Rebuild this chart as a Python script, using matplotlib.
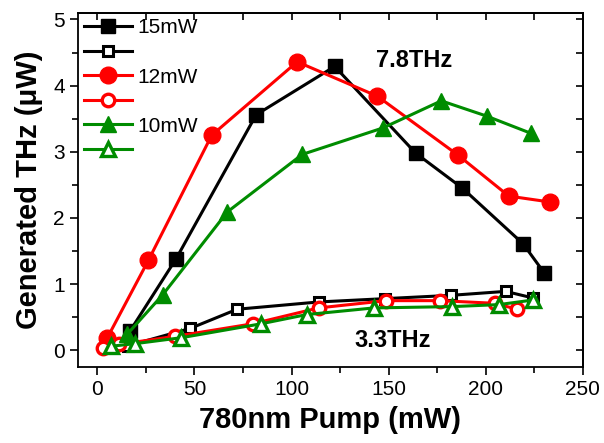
import matplotlib
matplotlib.use("Agg")
import matplotlib.pyplot as plt
from matplotlib.ticker import MultipleLocator

plt.rcParams['font.family'] = ['Liberation Sans', 'DejaVu Sans']

# 7.8 THz (filled symbols)
x15 = [16.8, 40.5, 81.8, 122.2, 163.9, 188.0, 219.2, 230.1]
y15 = [0.29, 1.38, 3.56, 4.29, 2.98, 2.45, 1.61, 1.17]
x12 = [5.0, 26.3, 58.9, 102.9, 144.2, 185.7, 211.9, 233.3]
y12 = [0.18, 1.36, 3.25, 4.36, 3.84, 2.95, 2.33, 2.24]
x10 = [15.3, 33.7, 66.9, 105.5, 147.0, 177.1, 200.4, 223.2]
y10 = [0.24, 0.84, 2.09, 2.96, 3.36, 3.77, 3.54, 3.28]

# 3.3 THz (open symbols)
x15o = [16.0, 47.8, 72.0, 113.9, 147.9, 182.0, 210.2, 224.4]
y15o = [0.07, 0.33, 0.62, 0.73, 0.78, 0.83, 0.89, 0.79]
x12o = [3.0, 11.3, 40.0, 80.0, 113.9, 148.8, 176.3, 204.6, 216.1]
y12o = [0.03, 0.09, 0.21, 0.40, 0.64, 0.75, 0.75, 0.71, 0.62]
x10o = [6.8, 19.5, 43.3, 84.3, 107.9, 142.4, 182.8, 206.7, 224.4]
y10o = [0.06, 0.10, 0.19, 0.40, 0.54, 0.64, 0.66, 0.69, 0.76]

green = '#008c00'

fig = plt.figure(figsize=(6.04, 4.43), dpi=100)
ax = fig.add_axes([0.129, 0.172, 0.836, 0.799])

lw = 2.2
ax.plot(x15, y15, '-s', color='k', lw=lw, ms=10.5, label='15mW')
ax.plot(x15o, y15o, '-s', color='k', lw=lw, ms=7.5, mfc='white', mew=2.2, label=' ')
ax.plot(x12, y12, '-o', color='red', lw=lw, ms=12, label='12mW')
ax.plot(x12o, y12o, '-o', color='red', lw=lw, ms=9, mfc='white', mew=2.4, label=' ')
ax.plot(x10, y10, '-^', color=green, lw=lw, ms=12, label='10mW')
ax.plot(x10o, y10o, '-^', color=green, lw=lw, ms=9.5, mfc='white', mew=2.4, label=' ')

ax.set_xlim(-10, 250)
ax.set_ylim(-0.25, 5.1)
ax.xaxis.set_major_locator(MultipleLocator(50))
ax.xaxis.set_minor_locator(MultipleLocator(25))
ax.yaxis.set_major_locator(MultipleLocator(1))
ax.yaxis.set_minor_locator(MultipleLocator(0.5))
ax.tick_params(which='major', direction='out', length=6, width=1.2, labelsize=15)
ax.tick_params(which='minor', direction='out', length=4, width=1.2)

# inward ticks on top and right
secx = ax.secondary_xaxis('top')
secx.xaxis.set_major_locator(MultipleLocator(25))
secx.tick_params(direction='in', length=5, width=1.2, labeltop=False)
secy = ax.secondary_yaxis('right')
secy.yaxis.set_major_locator(MultipleLocator(0.5))
secy.tick_params(direction='in', length=5, width=1.2, labelright=False)

for s in ax.spines.values():
    s.set_linewidth(1.3)
secx.spines['top'].set_linewidth(1.3)
secy.spines['right'].set_linewidth(1.3)

ax.set_xlabel('780nm Pump (mW)', fontsize=21, fontweight='bold', labelpad=5)
ax.set_ylabel('Generated THz (\u03bcW)', fontsize=21, fontweight='bold', labelpad=7)

ax.text(163, 4.38, '7.8THz', fontsize=17, fontweight='bold', ha='center', va='center')
ax.text(152, 0.15, '3.3THz', fontsize=17, fontweight='bold', ha='center', va='center')

ax.legend(loc='upper left', bbox_to_anchor=(-0.012, 1.02), frameon=False,
          fontsize=15, handlelength=2.3, handletextpad=0.25, labelspacing=0.27,
          borderaxespad=0.2)

fig.savefig('out.png', dpi=100)
